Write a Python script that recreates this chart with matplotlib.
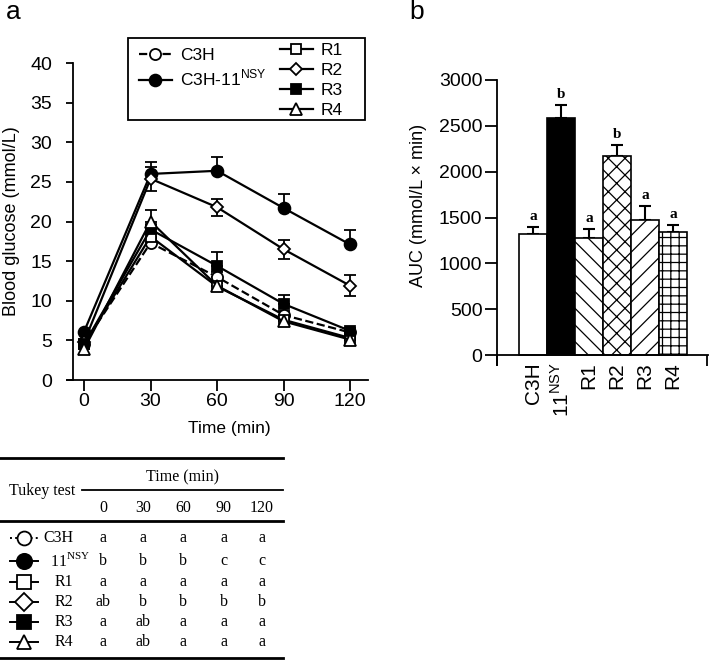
# ____________________________________________________________
# import modules
import numpy as np
import matplotlib.pyplot as plt
from matplotlib.lines import Line2D

plt.rcParams['font.family'] = ['Liberation Sans', 'DejaVu Sans']
plt.rcParams['mathtext.fontset'] = 'custom'
plt.rcParams['mathtext.rm'] = 'Liberation Serif'
plt.rcParams['mathtext.sf'] = 'Liberation Sans'
plt.rcParams['hatch.linewidth'] = 0.9


# ____________________________________________________________
# data

# panel a: blood glucose (mmol/L) during glucose tolerance test
time = [0, 30, 60, 90, 120]
c3h = [4.6, 17.3, 13.0, 8.2, 6.0]
nsy = [6.1, 26.0, 26.4, 21.7, 17.1]
r1 = [4.5, 18.1, 11.8, 7.6, 5.3]
r2 = [4.8, 25.4, 21.8, 16.5, 11.9]
r3 = [4.5, 19.0, 14.4, 9.6, 6.2]
r4 = [3.9, 20.0, 11.9, 7.4, 5.1]

# upper / lower error bars
c3h_up = [0, 0.6, 0.6, 0.5, 0.3]
c3h_lo = [0, 0, 0, 0, 0]
nsy_up = [0, 1.5, 1.7, 1.8, 1.8]
nsy_lo = [0, 0, 0, 0, 0]
r1_up = [0, 0.6, 0.4, 0.4, 0.3]
r1_lo = [0, 0, 0, 0, 0]
r2_up = [0, 1.5, 1.1, 1.2, 1.3]
r2_lo = [0, 1.5, 1.1, 1.2, 1.3]
r3_up = [0, 0.6, 1.7, 1.1, 0.3]
r3_lo = [0, 0, 0, 0, 0]
r4_up = [0, 1.5, 0.4, 0.4, 0.3]
r4_lo = [0, 0, 0, 0, 0]

legend_labels = ['C3H', 'C3H-11$^{\\mathsf{NSY}}$', 'R1', 'R2', 'R3', 'R4']

# panel b: area under curve
auc_groups = ['C3H', '11$^{\\mathsf{NSY}}$', 'R1', 'R2', 'R3', 'R4']
auc = [1316, 2582, 1273, 2175, 1473, 1338]
auc_err = [84, 145, 102, 116, 156, 80]
auc_letters = ['a', 'b', 'a', 'b', 'a', 'a']

# table: Tukey test
table_rows = ['C3H', '11$^{\\mathrm{NSY}}$', 'R1', 'R2', 'R3', 'R4']
table_times = ['0', '30', '60', '90', '120']
tukey = [['a', 'a', 'a', 'a', 'a'],
         ['b', 'b', 'b', 'c', 'c'],
         ['a', 'a', 'a', 'a', 'a'],
         ['ab', 'b', 'b', 'b', 'b'],
         ['a', 'ab', 'a', 'a', 'a'],
         ['a', 'ab', 'a', 'a', 'a']]


# ____________________________________________________________
# styles

series = [c3h, nsy, r1, r2, r3, r4]
ups = [c3h_up, nsy_up, r1_up, r2_up, r3_up, r4_up]
los = [c3h_lo, nsy_lo, r1_lo, r2_lo, r3_lo, r4_lo]
markers = ['o', 'o', 's', 'D', 's', '^']
msizes = [8, 8.5, 7.5, 6.5, 7.5, 8]
faces = ['white', 'black', 'white', 'white', 'black', 'white']
styles = ['--', '-', '-', '-', '-', '-']
hatches = ['', '', '\\\\', 'xx', '//', '++']
bar_faces = ['white', 'black', 'white', 'white', 'white', 'white']

W, H = 709, 660
fig = plt.figure(figsize=(W / 100, H / 100), dpi=100)


# ____________________________________________________________
# panel a

ax = fig.add_axes([67 / W, 1 - 380 / H, 301 / W, 317 / H])
for y, up, lo, m, ms, fc, ls in zip(series, ups, los, markers, msizes, faces, styles):
    up = np.array(up)
    lo = np.array(lo)
    t = np.array(time)
    keep = (up > 0) | (lo > 0)
    ax.errorbar(t[keep], np.array(y)[keep], yerr=[lo[keep], up[keep]], fmt='none',
                ecolor='black', elinewidth=1.3, capsize=4, capthick=1.3, zorder=2)
    ax.plot(time, y, color='black', lw=1.6, ls=ls, marker=m, ms=ms,
            mfc=fc, mec='black', mew=1.3, zorder=3)

ax.set_xlim(-7.7, 128.1)
ax.set_ylim(0, 40)
ax.set_xticks(time)
ax.set_yticks(np.arange(0, 41, 5))
ax.spines['top'].set_visible(False)
ax.spines['right'].set_visible(False)
ax.spines['left'].set_position(('data', -5))
ax.spines['left'].set_linewidth(1.3)
ax.spines['bottom'].set_linewidth(1.3)
ax.tick_params(axis='x', labelsize=14, length=8, width=1.3, pad=1)
ax.tick_params(axis='y', labelsize=14, length=5, width=1.3, pad=10)
ax.set_ylabel('Blood glucose (mmol/L)', fontsize=13)
ax.yaxis.set_label_coords(-0.155, 0.5)
ax.set_xlabel('Time (min)', fontsize=12.5)
ax.xaxis.set_label_coords(0.538, -0.128)

# legend: one frame, two columns of different length
handles = []
for m, ms, fc, ls in zip(markers, msizes, faces, styles):
    handles.append(Line2D([], [], color='black', lw=1.6, ls=ls, marker=m, ms=ms,
                          mfc=fc, mec='black', mew=1.3))
leg_kw = dict(loc='upper left', bbox_transform=fig.transFigure, fontsize=12.5,
              frameon=False, handlelength=1.9, handletextpad=0.45,
              labelspacing=0.28, borderpad=0, borderaxespad=0)
fig.legend(handles[:2], legend_labels[:2], bbox_to_anchor=(139 / W, 1 - 48 / H),
           **leg_kw)
fig.legend(handles[2:], legend_labels[2:], bbox_to_anchor=(280 / W, 1 - 43 / H),
           **leg_kw)
fig.add_artist(plt.Rectangle((128 / W, 1 - 120 / H), 237 / W, 82 / H,
                             transform=fig.transFigure, fill=False,
                             lw=1.3, ec='black'))

fig.text(6 / W, 1 - 12 / H, 'a', fontsize=19, va='center', ha='left')


# ____________________________________________________________
# panel b

ax2 = fig.add_axes([497 / W, 1 - 365 / H, 211 / W, 285 / H])
x = np.arange(len(auc))
ax2.bar(x, auc, width=1, color=bar_faces, edgecolor='black', lw=1.2,
        hatch=hatches, zorder=2)
ax2.errorbar(x, auc, yerr=[np.zeros(len(auc)), auc_err], fmt='none', ecolor='black',
             elinewidth=1.5, capsize=4, capthick=1.5, zorder=1)
for xi, v, e, letter in zip(x, auc, auc_err, auc_letters):
    ax2.annotate(letter, (xi, v + e), xytext=(0, 3), textcoords='offset points',
                 ha='center', va='bottom', fontsize=11, fontweight='bold',
                 family='Liberation Serif')

ax2.set_xlim(-1.286, 6.25)
ax2.set_ylim(-109, 3000)
ax2.set_yticks(np.arange(0, 3001, 500))
ax2.set_xticks(x, auc_groups)
ax2.set_xticks([-1.27, 6.2], minor=True)
ax2.tick_params(axis='x', which='major', length=0, pad=5, labelsize=15,
                labelrotation=90)
ax2.tick_params(axis='x', which='minor', length=8, width=1.3, direction='out')
ax2.tick_params(axis='y', labelsize=14, length=8.5, width=1.3, pad=2)
ax2.spines['top'].set_visible(False)
ax2.spines['right'].set_visible(False)
ax2.spines['bottom'].set_position(('data', 0))
ax2.spines['left'].set_linewidth(1.3)
ax2.spines['bottom'].set_linewidth(1.3)
ax2.set_ylabel('AUC (mmol/L × min)', fontsize=13)
ax2.yaxis.set_label_coords(-0.33, 0.56)

fig.text(409 / W, 1 - 12 / H, 'b', fontsize=19, va='center', ha='left')


# ____________________________________________________________
# table

tab = fig.add_axes([0, 0, 290 / W, 210 / H])
tab.set_xlim(0, 290)
tab.set_ylim(660, 450)
tab.axis('off')

col_x = [103, 143, 183, 224, 262]
row_y = [538, 561, 582, 602, 622, 642]
text_x = [43, 50, 55, 55, 55, 55]
serif = 'Liberation Serif'
fs = 11.5

tab.plot([0, 283], [458, 458], color='black', lw=2)
tab.plot([82, 283], [490, 490], color='black', lw=1.3)
tab.plot([0, 283], [521, 521], color='black', lw=2)
tab.plot([0, 283], [658, 658], color='black', lw=2)
tab.text(42, 491, 'Tukey test', family=serif, fontsize=fs, ha='center', va='center')
tab.text(182, 477, 'Time (min)', family=serif, fontsize=fs, ha='center', va='center')
for cx, t in zip(col_x, table_times):
    tab.text(cx, 508, t, family=serif, fontsize=fs, ha='center', va='center')

table_styles = [':', '-', '-', '-', '-', '-']
table_ms = [10, 11, 10, 9, 10, 9.5]
for i, (ry, label) in enumerate(zip(row_y, table_rows)):
    tab.plot([10, 24, 38], [ry, ry, ry], color='black', lw=1.4, ls=table_styles[i],
             marker=markers[i], ms=table_ms[i], mfc=faces[i], mec='black', mew=1.3,
             markevery=[1])
    tab.text(text_x[i], ry, label, family=serif, fontsize=fs, ha='left', va='center')
    for cx, letter in zip(col_x, tukey[i]):
        tab.text(cx, ry, letter, family=serif, fontsize=fs, ha='center', va='center')

fig.savefig('out.png', dpi=100)
